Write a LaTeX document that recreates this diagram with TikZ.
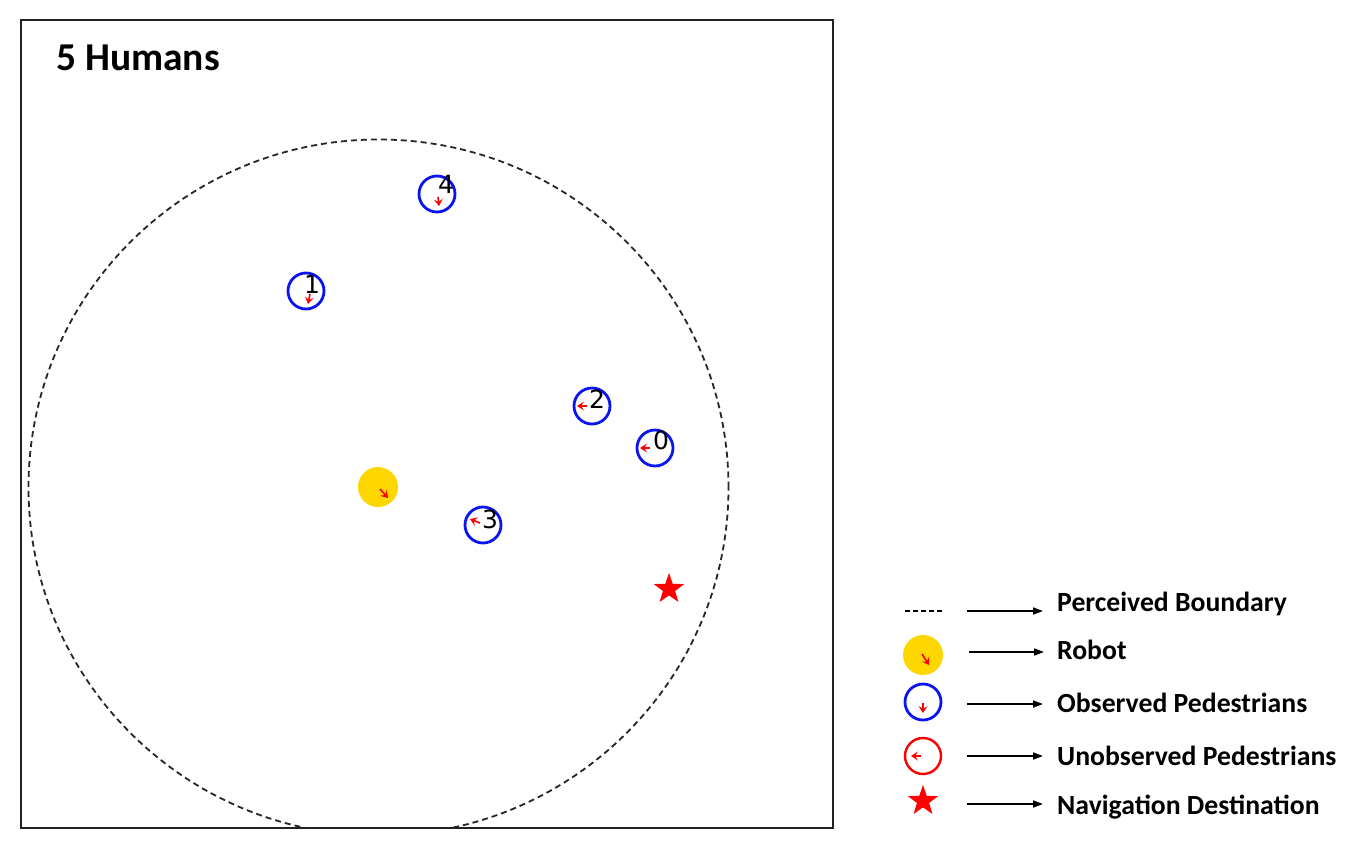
\documentclass[tikz,border=0pt]{standalone}
\usepackage{fontspec}
\setmainfont{Carlito}
\newfontfamily\numfont{DejaVu Sans}
\usetikzlibrary{arrows.meta,shapes.geometric}
\definecolor{gold}{HTML}{FFD700}
\definecolor{pedblue}{HTML}{0A14F0}
\definecolor{framegray}{HTML}{222222}
\tikzset{
  ped/.style={circle,draw=pedblue,line width=2.8pt,minimum size=36pt,inner sep=0pt},
  unobs/.style={circle,draw=red,line width=2.4pt,minimum size=36pt,inner sep=0pt},
  robot/.style={circle,fill=gold,minimum size=40pt,inner sep=0pt},
  goal/.style={star,star points=5,star point ratio=2.5,fill=red,minimum size=32pt,inner sep=0pt},
  vel/.style={red,line width=1.6pt,-{Stealth[length=7pt,width=9pt,inset=3pt]}},
  num/.style={font=\numfont\fontsize{25}{25}\selectfont,anchor=base west,inner sep=0pt},
  legtext/.style={font=\fontsize{27.7}{30}\selectfont\bfseries,anchor=base west,inner sep=0pt},
  legarrow/.style={line width=1.6pt,-{Triangle[length=10pt,width=7pt]}},
  boundary/.style={line width=1.8pt,dash pattern=on 6pt off 4pt,black!85}
}
\begin{document}
\begin{tikzpicture}[x=1pt,y=-1pt]
\useasboundingbox (0,0) rectangle (1354,854);
\fill[white] (0,0) rectangle (1354,854);
% frame
\begin{scope}
\clip (21,20) rectangle (833,828);
\draw[boundary] (378.5,487.5) ellipse[x radius=350pt,y radius=348pt];
\end{scope}
\draw[framegray,line width=1.5pt] (21,20) rectangle (833,828);
\node[font=\fontsize{39.5}{40}\selectfont\bfseries,anchor=base west,inner sep=0pt] (title) at (56,70) {5 Humans};
% robot
\node[robot] (rob) at (378,487) {};
\draw[vel] (380,489) -- (388,498);
% humans
\node[ped] (h4) at (437,194) {};
\draw[vel] (438,197) -- (439,206);
\node[num] (l4) at (438,193) {4};
\node[ped] (h1) at (306,291) {};
\draw[vel] (310,294) -- (308,304);
\node[num] (l1) at (304,293) {1};
\node[ped] (h2) at (592,406) {};
\draw[vel] (587,406) -- (577,406);
\node[num] (l2) at (589,408) {2};
\node[ped] (h0) at (655,448) {};
\draw[vel] (650,448) -- (640,448);
\node[num] (l0) at (653,449) {0};
\node[ped] (h3) at (483,525) {};
\draw[vel] (480,523) -- (470,519);
\node[num] (l3) at (482,528) {3};
% goal
\node[goal] (g) at (669,589) {};
% legend
\coordinate (d1) at (905,611);
\coordinate (d2) at (943,611);
\draw[line width=1.6pt,dash pattern=on 5pt off 3pt] (d1) -- (d2);
\node[robot] (lrob) at (923,655) {};
\draw[vel] (922,654) -- (929,665);
\node[ped] (lped) at (923,702) {};
\draw[vel] (923,703) -- (923,713);
\node[unobs] (lun) at (923,756) {};
\draw[vel] (921,756) -- (911,756);
\node[goal] (lgoal) at (923,801) {};
\coordinate (a1s) at (967,611); \coordinate (a1e) at (1043,611);
\coordinate (a2s) at (969,652); \coordinate (a2e) at (1044,652);
\coordinate (a3s) at (967,704); \coordinate (a3e) at (1043,704);
\coordinate (a4s) at (967,756); \coordinate (a4e) at (1043,756);
\coordinate (a5s) at (967,804); \coordinate (a5e) at (1043,804);
\draw[legarrow] (a1s) -- (a1e);
\draw[legarrow] (a2s) -- (a2e);
\draw[legarrow] (a3s) -- (a3e);
\draw[legarrow] (a4s) -- (a4e);
\draw[legarrow] (a5s) -- (a5e);
\node[legtext] (t1) at (1057,611) {Perceived Boundary};
\node[legtext] (t2) at (1057,659) {Robot};
\node[legtext] (t3) at (1057,712) {Observed Pedestrians};
\node[legtext] (t4) at (1057,765) {Unobserved Pedestrians};
\node[legtext] (t5) at (1057,814) {Navigation Destination};
\end{tikzpicture}
\end{document}
